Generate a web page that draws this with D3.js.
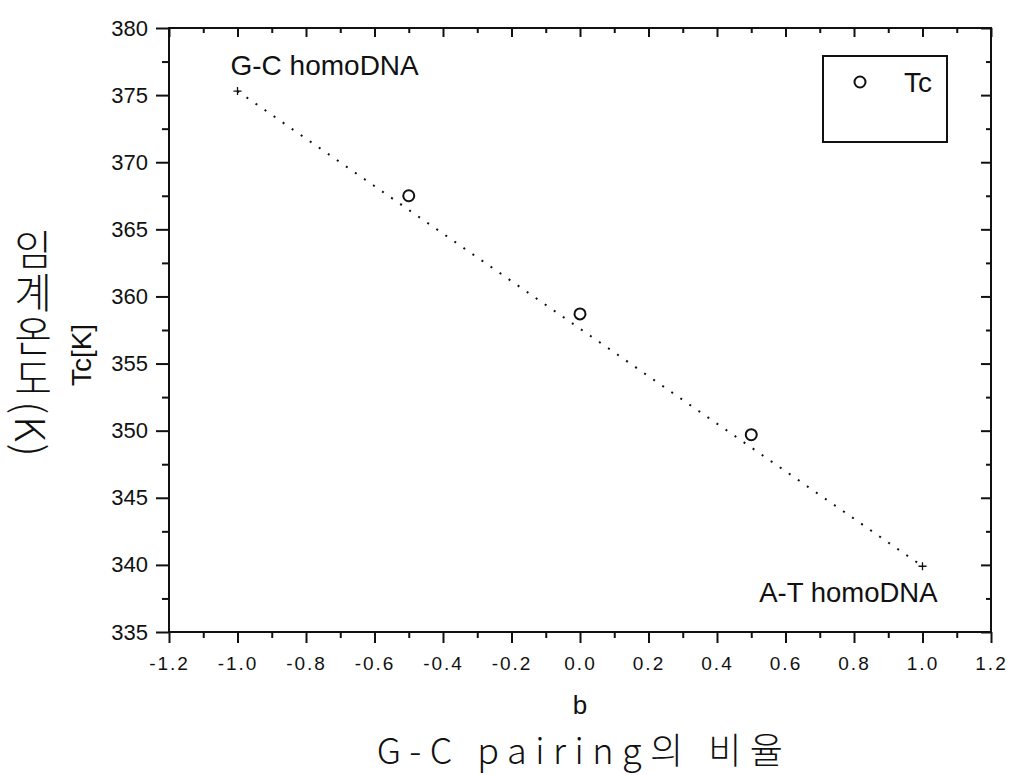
<!DOCTYPE html>
<html>
<head>
<meta charset="utf-8">
<script src="https://cdn.jsdelivr.net/npm/d3@7"></script>
<style>
  html, body { margin: 0; padding: 0; background: #fff; }
  svg { display: block; }
</style>
</head>
<body>
<svg id="chart" width="1010" height="775"></svg>
<script>
// Critical temperature Tc versus b (G-C pairing fraction)
const measuredB  = [-0.5, 0.0, 0.5];
const measuredTc = [367.5, 358.7, 349.7];

// homoDNA end points joined by the dotted guide line
const endB  = [-1.0, 1.0];
const endTc = [375.3, 339.9];
const endLabels = ["G-C homoDNA", "A-T homoDNA"];

const xTicks = [-1.2, -1.0, -0.8, -0.6, -0.4, -0.2, 0.0, 0.2, 0.4, 0.6, 0.8, 1.0, 1.2];
const xMinorTicks = [-1.1, -0.9, -0.7, -0.5, -0.3, -0.1, 0.1, 0.3, 0.5, 0.7, 0.9, 1.1];
const yTicks = [335, 340, 345, 350, 355, 360, 365, 370, 375, 380];
const yMinorTicks = [337.5, 342.5, 347.5, 352.5, 357.5, 362.5, 367.5, 372.5, 377.5];

const svg = d3.select("#chart");
const plotL = 169, plotR = 991, plotT = 28, plotB = 632;

const x = d3.scaleLinear().domain([-1.2, 1.2]).range([plotL, plotR]);
const y = d3.scaleLinear().domain([335, 380]).range([plotB, plotT]);

const ink = "#111";
const latin = "Arial, 'Liberation Sans', sans-serif";
const korean = "'Noto Sans CJK KR', sans-serif";

// frame
svg.append("rect")
  .attr("x", plotL).attr("y", plotT)
  .attr("width", plotR - plotL).attr("height", plotB - plotT)
  .attr("fill", "none").attr("stroke", ink).attr("stroke-width", 2);

// bottom axis: outward ticks
const gx = svg.append("g").attr("transform", `translate(0,${plotB})`)
  .call(d3.axisBottom(x).tickValues(xTicks).tickSize(11).tickPadding(14)
    .tickFormat(d => d.toFixed(1)));
gx.call(g => g.select(".domain").remove());
gx.selectAll("line").attr("stroke", ink).attr("stroke-width", 2);
gx.selectAll("text").attr("font-family", latin).attr("font-size", 19)
  .attr("letter-spacing", 2).attr("fill", ink);
svg.append("g").attr("transform", `translate(0,${plotB})`)
  .call(d3.axisBottom(x).tickValues(xMinorTicks).tickSize(6).tickFormat(""))
  .call(g => g.select(".domain").remove())
  .selectAll("line").attr("stroke", ink).attr("stroke-width", 2);

// top axis: inward ticks
svg.append("g").attr("transform", `translate(0,${plotT})`)
  .call(d3.axisBottom(x).tickValues(xTicks).tickSize(9).tickFormat(""))
  .call(g => g.select(".domain").remove())
  .selectAll("line").attr("stroke", ink).attr("stroke-width", 2);
svg.append("g").attr("transform", `translate(0,${plotT})`)
  .call(d3.axisBottom(x).tickValues(xMinorTicks).tickSize(5).tickFormat(""))
  .call(g => g.select(".domain").remove())
  .selectAll("line").attr("stroke", ink).attr("stroke-width", 2);

// left axis: outward ticks
const gy = svg.append("g").attr("transform", `translate(${plotL},0)`)
  .call(d3.axisLeft(y).tickValues(yTicks).tickSize(13).tickPadding(8)
    .tickFormat(d => String(d)));
gy.call(g => g.select(".domain").remove());
gy.selectAll("line").attr("stroke", ink).attr("stroke-width", 2);
gy.selectAll("text").attr("font-family", latin).attr("font-size", 22).attr("fill", ink);
svg.append("g").attr("transform", `translate(${plotL},0)`)
  .call(d3.axisLeft(y).tickValues(yMinorTicks).tickSize(7).tickFormat(""))
  .call(g => g.select(".domain").remove())
  .selectAll("line").attr("stroke", ink).attr("stroke-width", 2);

// right axis: inward ticks
svg.append("g").attr("transform", `translate(${plotR},0)`)
  .call(d3.axisRight(y).tickValues(yTicks).tickSize(-10).tickFormat(""))
  .call(g => g.select(".domain").remove())
  .selectAll("line").attr("stroke", ink).attr("stroke-width", 2);
svg.append("g").attr("transform", `translate(${plotR},0)`)
  .call(d3.axisRight(y).tickValues(yMinorTicks).tickSize(-5).tickFormat(""))
  .call(g => g.select(".domain").remove())
  .selectAll("line").attr("stroke", ink).attr("stroke-width", 2);

// dotted guide between the homoDNA end points
svg.append("path")
  .datum(endB.map((b, i) => [b, endTc[i]]))
  .attr("d", d3.line().x(d => x(d[0])).y(d => y(d[1])))
  .attr("fill", "none").attr("stroke", ink).attr("stroke-width", 2)
  .attr("stroke-dasharray", "2 9");

// end point crosses
svg.append("g").selectAll("path")
  .data(endB.map((b, i) => [b, endTc[i]]))
  .join("path")
  .attr("transform", d => `translate(${x(d[0])},${y(d[1])})`)
  .attr("d", "M-4,0H4M0,-4V4")
  .attr("stroke", ink).attr("stroke-width", 1.3);

// measured Tc
svg.append("g").selectAll("circle")
  .data(measuredB.map((b, i) => [b, measuredTc[i]]))
  .join("circle")
  .attr("cx", d => x(d[0])).attr("cy", d => y(d[1])).attr("r", 5.5)
  .attr("fill", "none").attr("stroke", ink).attr("stroke-width", 2);

// end point annotations
svg.append("text").attr("x", x(endB[0]) - 7).attr("y", y(endTc[0]) - 16)
  .attr("font-family", latin).attr("font-size", 28).attr("fill", ink)
  .text(endLabels[0]);
svg.append("text").attr("x", x(endB[1]) + 15).attr("y", y(endTc[1]) + 36)
  .attr("text-anchor", "end")
  .attr("font-family", latin).attr("font-size", 27.5).attr("fill", ink)
  .text(endLabels[1]);

// legend
const lg = svg.append("g");
lg.append("rect").attr("x", 823).attr("y", 56).attr("width", 124).attr("height", 86)
  .attr("fill", "none").attr("stroke", ink).attr("stroke-width", 2);
lg.append("circle").attr("cx", 860).attr("cy", 82).attr("r", 5.5)
  .attr("fill", "none").attr("stroke", ink).attr("stroke-width", 2);
lg.append("text").attr("x", 904).attr("y", 92)
  .attr("font-family", latin).attr("font-size", 28).attr("fill", ink).text("Tc");

// axis titles
svg.append("text").attr("x", (plotL + plotR) / 2).attr("y", 714)
  .attr("text-anchor", "middle")
  .attr("font-family", latin).attr("font-size", 26).attr("fill", ink).text("b");
svg.append("text").attr("x", (plotL + plotR) / 2 + 4).attr("y", 764)
  .attr("text-anchor", "middle")
  .attr("font-family", korean).attr("font-weight", 300)
  .attr("font-size", 36).attr("letter-spacing", 8.5).attr("fill", ink)
  .text("G-C pairing의 비율");

svg.append("text")
  .attr("transform", "translate(91,355) rotate(-90)")
  .attr("text-anchor", "middle")
  .attr("font-family", latin).attr("font-size", 28).attr("fill", ink).text("Tc[K]");

// vertical Korean title: upright syllables, sideways Latin unit
svg.append("text")
  .attr("x", 33).attr("y", 344)
  .style("writing-mode", "vertical-rl")
  .style("text-orientation", "mixed")
  .attr("text-anchor", "middle")
  .attr("letter-spacing", 2)
  .attr("font-family", korean).attr("font-weight", 300)
  .attr("font-size", 41).attr("fill", ink).text("임계온도(K)");
</script>
</body>
</html>
